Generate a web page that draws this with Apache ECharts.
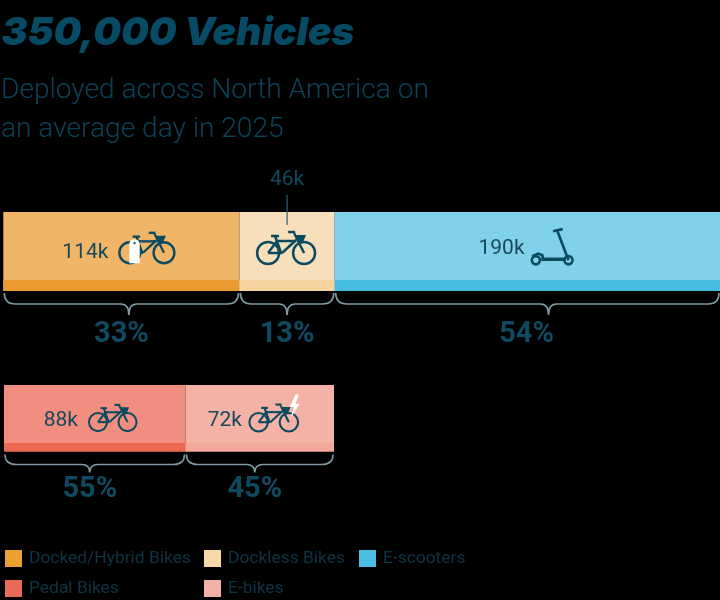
<!DOCTYPE html>
<html><head><meta charset="utf-8">
<style>html,body{margin:0;padding:0;background:#000}#c{width:720px;height:600px}</style>
<script src="https://cdn.jsdelivr.net/npm/echarts@6/dist/echarts.min.js"></script></head>
<body><div id="c"></div>
<script>
const categoriesTop = ['Docked/Hybrid Bikes','Dockless Bikes','E-scooters'];
const valuesTop = [114,46,190];
const valueLabelsTop = ['114k','46k','190k'];
const percentLabelsTop = ['33%','13%','54%'];
const categoriesBottom = ['Pedal Bikes','E-bikes'];
const valuesBottom = [88,72];
const valueLabelsBottom = ['88k','72k'];
const percentLabelsBottom = ['55%','45%'];
// the top bar runs off the right edge of the picture: the visible axis ends a little before the total
const topAxisMax = 346;

const INK='#0c4a60', FONT='Roboto';
const fills={'Docked/Hybrid Bikes':'#f0b567','Dockless Bikes':'#f8dfbc','E-scooters':'#80d2ea','Pedal Bikes':'#f28e7f','E-bikes':'#f4b1a6'};
const strips={'Docked/Hybrid Bikes':'#ea9a2f','Dockless Bikes':'#f6d39f','E-scooters':'#48bce0','Pedal Bikes':'#e9684f','E-bikes':'#f3a69a'};
const swatches={'Docked/Hybrid Bikes':'#eca030','Dockless Bikes':'#f8d8a8','E-scooters':'#4abde2','Pedal Bikes':'#e96a55','E-bikes':'#f3b2a8'};
// per-mark placement offsets relative to the segment
const place={
 'Docked/Hybrid Bikes':{lx:-36,ly:7,ix:25.5,iy:2,scale:0.95,icon:'dock',tip:7.5,px:0},
 'Dockless Bikes':{lx:0,ly:0,ix:-1,iy:2,scale:1,icon:'bike',tip:0,px:0,outside:true},
 'E-scooters':{lx:-30,ly:3,ix:21,iy:1,scale:1.02,icon:'scooter',tip:17,px:-5},
 'Pedal Bikes':{lx:-34,ly:7,ix:18,iy:4,scale:0.82,icon:'bike',tip:-5,px:-5},
 'E-bikes':{lx:-35,ly:7,ix:14,iy:4,scale:0.84,icon:'ebike',tip:-5,px:-5}
};
const rows=[{strip:11,braceTop:2,braceMid:13,braceTip:24,pctY:44},{strip:8.5,braceTop:3,braceMid:13,braceTip:21,pctY:38}];

function bike(){
 const st={stroke:INK,lineWidth:2.5,fill:'none'};
 const L=(a,b,c,d)=>({type:'line',shape:{x1:a,y1:b,x2:c,y2:d},style:st});
 return [
  {type:'circle',shape:{cx:-18,cy:5,r:11},style:st},
  {type:'circle',shape:{cx:18,cy:5,r:11},style:st},
  L(-15,-12,-7,-12),L(-11,-12,-5,5),L(-18,5,-9,-7),L(-18,5,-4,5),L(-9,-7,10,-7),L(-4,5,10,-8),
  L(18,5,8,-15),L(2,-16,9,-16),
  {type:'polygon',shape:{points:[[10,-13],[20,-13],[17,-6],[12,-6]]},style:{fill:INK}}
 ];
}
function scooter(){
 const st={stroke:INK,lineWidth:2.6,fill:'none'};
 const L=(a,b,c,d,w)=>({type:'line',shape:{x1:a,y1:b,x2:c,y2:d},style:Object.assign({},st,w?{lineWidth:w}:{})});
 return [
  {type:'circle',shape:{cx:-16.3,cy:13,r:4},style:st},
  {type:'circle',shape:{cx:15.7,cy:13,r:4},style:st},
  L(15.7,13,4.7,-16),L(0.5,-15.5,10,-17.5),L(-11,12,12,12,3.4),
  {type:'polyline',shape:{points:[[-20,9],[-14,6.5],[-10,8],[-9,12]]},style:st}
 ];
}
function iconGroup(name,x,y,s){
 let kids;
 if(name==='scooter') kids=scooter();
 else kids=bike();
 if(name==='dock') kids=kids.concat([
  {type:'rect',shape:{x:-18.5,y:-9,width:11,height:25,r:[5,5,0,0]},style:{fill:'#fff'}},
  {type:'circle',shape:{cx:-13,cy:-5,r:1.2},style:{fill:INK}}
 ]);
 if(name==='ebike') kids=kids.concat([
  {type:'polygon',shape:{points:[[26,-28],[19,-13],[24,-13],[20,0],[31,-17],[26,-17],[30,-28]]},style:{fill:'#fff'}}
 ]);
 return {type:'group',x:x,y:y,scaleX:s,scaleY:s,children:kids};
}
function text(t,x,y,size,color,weight){
 return {type:'text',x:x,y:y,style:{text:t,x:0,y:0,fill:color,font:(weight||400)+' '+size+'px '+FONT,textAlign:'center',textVerticalAlign:'middle'}};
}
function segmentRender(row,name,label,pct){
 return function(params,api){
  const p=place[name],R=rows[row];
  const a=api.coord([api.value(0),0]),b=api.coord([api.value(1),0]);
  const h=api.size([0,1])[1],top=a[1]-h/2,bot=top+h,l=a[0],r=b[0],w=r-l,c=(l+r)/2;
  const mainMid=top+(h-R.strip)/2;
  const kids=[
   {type:'rect',shape:{x:l,y:top,width:w,height:h},style:{fill:fills[name]}},
   {type:'rect',shape:{x:l,y:bot-R.strip,width:w,height:R.strip},style:{fill:strips[name]}}
  ];
  if(params.seriesIndex===0||params.seriesIndex===3) kids.push({type:'line',shape:{x1:r,y1:top,x2:r,y2:bot},style:{stroke:'rgba(120,80,40,.35)',lineWidth:1}});
  kids.push(iconGroup(p.icon,c+p.ix,mainMid+p.iy,p.scale));
  if(p.outside){
   kids.push({type:'line',shape:{x1:c,y1:top-17,x2:c,y2:top+13},style:{stroke:'#2f5f70',lineWidth:1.2}});
   kids.push(text(label,c,top-32,21,'#134a5f'));
  } else {
   kids.push(text(label,c+p.lx,mainMid+p.ly,21,'#17485c'));
  }
  const bt=bot+R.braceTop,bm=bot+R.braceMid,bp=bot+R.braceTip,x1=l+1,x2=Math.min(r-1,api.getWidth()-1),tx=c+p.tip;
  const d=['M',x1,bt,'Q',x1,bm,x1+11,bm,'L',tx-8,bm,'Q',tx,bm,tx,bp,'Q',tx,bm,tx+8,bm,'L',x2-11,bm,'Q',x2,bm,x2,bt].join(' ');
  kids.push({type:'path',shape:{pathData:d,x:x1,y:bt,width:x2-x1,height:bp-bt,layout:'cover'},style:{fill:'none',stroke:'#7f9aa3',lineWidth:1.6}});
  kids.push(text(pct,c+p.px,bot+R.pctY,29,'#0f4a62',700));
  return {type:'group',children:kids};
 };
}
function buildSeries(cats,vals,labels,pcts,row){
 let run=0;
 return cats.map((n,i)=>{
  const s=run; run+=vals[i];
  return {type:'custom',name:n,xAxisIndex:row,yAxisIndex:row,clip:false,
   itemStyle:{color:swatches[n]},encode:{x:[0,1],y:2},
   data:[[s,run,0]],renderItem:segmentRender(row,n,labels[i],pcts[i]),silent:true,animation:false};
 });
}
const sum=a=>a.reduce((x,y)=>x+y,0);
const legendBase={orient:'vertical',icon:'rect',itemWidth:17,itemHeight:17,itemGap:13,itemStyle:{borderWidth:0},selectedMode:false,
 textStyle:{color:'#0e3344',fontFamily:FONT,fontSize:17.4,padding:[0,0,0,2]},padding:0};
const chart=echarts.init(document.getElementById('c'),null,{renderer:'canvas'});
chart.setOption({
 backgroundColor:'#000',animation:false,
 title:[
  {text:'350,000 Vehicles',left:1.5,top:14,padding:0,textStyle:{color:'#064a63',fontFamily:'Inter',fontSize:39,fontWeight:900,fontStyle:'italic'}},
  {text:'Deployed across North America on\nan average day in 2025',left:1,top:71,padding:0,textStyle:{color:'#0c4258',fontFamily:FONT,fontSize:28.1,fontWeight:300,lineHeight:39}}
 ],
 legend:[
  Object.assign({},legendBase,{left:5,top:550,data:[categoriesTop[0],categoriesBottom[0]]}),
  Object.assign({},legendBase,{left:204,top:550,data:[categoriesTop[1],categoriesBottom[1]]}),
  Object.assign({},legendBase,{left:359,top:550,data:[categoriesTop[2]]})
 ],
 grid:[
  {left:3.3,top:212,right:0,height:79},
  {left:4,top:385,width:330,height:66.5}
 ],
 xAxis:[
  {type:'value',gridIndex:0,min:0,max:topAxisMax,show:false},
  {type:'value',gridIndex:1,min:0,max:sum(valuesBottom),show:false}
 ],
 yAxis:[
  {type:'category',gridIndex:0,data:['Vehicles'],show:false},
  {type:'category',gridIndex:1,data:['Bikes'],show:false}
 ],
 series:buildSeries(categoriesTop,valuesTop,valueLabelsTop,percentLabelsTop,0)
  .concat(buildSeries(categoriesBottom,valuesBottom,valueLabelsBottom,percentLabelsBottom,1))
});
</script></body></html>
